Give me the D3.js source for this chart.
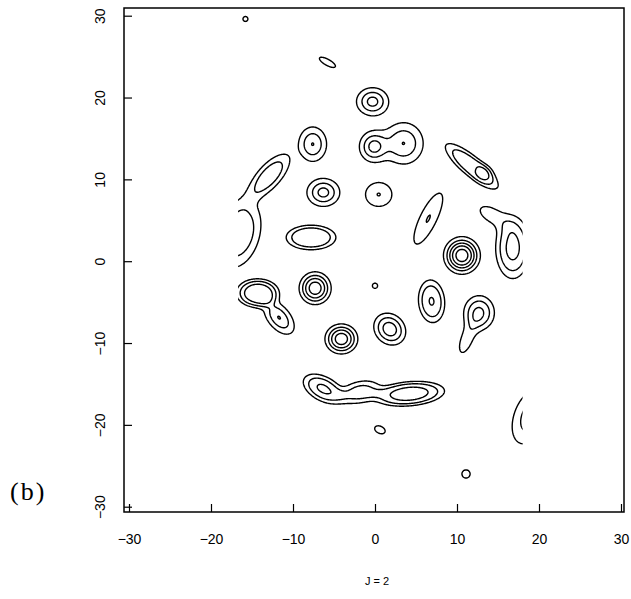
<!DOCTYPE html>
<html>
<head>
<meta charset="utf-8">
<script src="https://cdn.jsdelivr.net/npm/d3@7"></script>
<style>
  body { margin: 0; background: #fff; }
  svg text { font-family: "Liberation Sans", Arial, sans-serif; fill: #000; }
</style>
</head>
<body>
<svg id="chart" width="631" height="599"></svg>
<script>
// Axis ticks and contour levels
const xTicks = [-30, -20, -10, 0, 10, 20, 30];
const yTicks = [-30, -20, -10, 0, 10, 20, 30];
const levels = [1, 2, 3, 4, 5];

// Surface peaks: centre, height, spread along / across the axis, axis angle (deg), profile exponent
const peakX      = [-15.8, -5.8, -0.3, -7.6, -0.2, 3.5, -6.3, 0.45, -12.9, -16.6, -7.8, -14.3, -11.7, -7.3, -4.1, 0.0, 1.8, 6.9, 12.7, 11.2, 10.6, 6.5, 16.8, 14.3, 11.8, 13.4, -6.3, -1.8, 4.2, 0.6, 11.1, 18.9];
const peakY      = [29.6, 24.3, 19.5, 14.3, 14.0, 14.4, 8.4, 8.15, 10.4, 3.4, 2.9, -3.9, -6.9, -3.3, -9.5, -3.0, -8.3, -4.9, -6.3, -9.5, 0.7, 5.2, 1.6, 5.6, 11.6, 10.8, -15.6, -16.0, -16.2, -20.6, -26.0, -19.0];
const peakHeight = [1.2, 1.3, 3.4, 3.02, 3.3, 3.0, 3.4, 2.02, 2.6, 2.7, 2.95, 3.6, 3.03, 4.6, 4.6, 1.15, 3.5, 3.02, 3.08, 1.6, 5.6, 2.03, 3.2, 1.5, 2.6, 1.2, 3.1, 2.4, 3.3, 1.3, 1.3, 2.6];
const spreadA    = [0.5, 1.52, 1.25, 1.14, 1.1, 1.6, 1.28, 1.35, 2.4, 3.0, 2.1, 1.73, 1.6, 1.16, 1.19, 0.6, 1.35, 1.78, 1.25, 1.8, 1.27, 2.87, 1.4, 1.8, 2.9, 0.8, 1.8, 1.8, 2.9, 0.93, 0.69, 2.5];
const spreadB    = [0.5, 0.51, 1.09, 1.41, 1.2, 1.7, 1.09, 1.22, 1.0, 1.8, 1.04, 1.16, 0.9, 1.19, 1.09, 0.6, 1.15, 1.09, 1.4, 0.7, 1.3, 0.85, 2.5, 0.9, 0.85, 0.8, 1.0, 0.95, 1.0, 0.6, 0.69, 1.4];
const peakAngle  = [0, -29, 0, 0, 0, 0, 0, 0, 48, 75, 0, 0, -50, 0, 0, 0, -45, 95, 0, 69, 0, 64, 0, -30, -40, 0, -28, 12, 5, -25, 0, 70];
const peakShape  = [1, 1, 1, 1, 1, 1, 1, 1, 1.5, 1.5, 2, 2, 1, 1.2, 1.2, 1, 1.2, 1.5, 1.2, 1, 1.2, 1, 1.5, 1, 2, 1, 1.5, 1.5, 2, 1, 1, 1];

// Region of the plane that was mapped
const mapX = [-16.7, 18.0];
const mapY = [-30.5, 30.5];

const svg = d3.select("#chart");
const frame = { left: 124, right: 624, top: 8, bottom: 512 };

const x = d3.scaleLinear().domain([-30, 30]).range([129, 621]);
const y = d3.scaleLinear().domain([-30, 30]).range([506.7, 15.7]);

// Sample the surface on a grid slightly wider than the mapped region
const step = 0.1;
const gx0 = mapX[0] - 1, gx1 = mapX[1] + 1;
const gy0 = mapY[0] - 1, gy1 = mapY[1] + 1;
const nx = Math.round((gx1 - gx0) / step) + 1;
const ny = Math.round((gy1 - gy0) / step) + 1;
const values = new Float64Array(nx * ny);
const peaks = d3.range(peakX.length).map(i => {
  const a = peakAngle[i] * Math.PI / 180;
  return { cx: peakX[i], cy: peakY[i], h: peakHeight[i], sa: spreadA[i], sb: spreadB[i],
           c: Math.cos(a), s: Math.sin(a), p: peakShape[i] };
});
for (let j = 0; j < ny; j++) {
  const py = gy0 + j * step;
  for (let i = 0; i < nx; i++) {
    const px = gx0 + i * step;
    let f = 0;
    for (const k of peaks) {
      const dx = px - k.cx, dy = py - k.cy;
      const u = (dx * k.c + dy * k.s) / k.sa;
      const v = (-dx * k.s + dy * k.c) / k.sb;
      const d2 = (u * u + v * v) / 2;
      if (d2 < 40) f += k.h * Math.exp(-Math.pow(d2, k.p));
    }
    values[j * nx + i] = f;
  }
}

const contours = d3.contours().size([nx, ny]).thresholds(levels)(values);

const toScreen = d3.geoTransform({
  point(cx, cy) {
    this.stream.point(x(gx0 + (cx - 0.5) * step), y(gy0 + (cy - 0.5) * step));
  }
});
const path = d3.geoPath(toScreen);

svg.append("clipPath").attr("id", "mapClip")
  .append("rect")
  .attr("x", x(mapX[0])).attr("y", y(mapY[1]))
  .attr("width", x(mapX[1]) - x(mapX[0]))
  .attr("height", y(mapY[0]) - y(mapY[1]));

svg.append("g").attr("clip-path", "url(#mapClip)")
  .selectAll("path")
  .data(contours)
  .join("path")
  .attr("d", path)
  .attr("fill", "none")
  .attr("stroke", "#000")
  .attr("stroke-width", 1.4)
  .attr("stroke-linejoin", "round");

// Frame
svg.append("rect")
  .attr("x", frame.left).attr("y", frame.top)
  .attr("width", frame.right - frame.left)
  .attr("height", frame.bottom - frame.top)
  .attr("fill", "none").attr("stroke", "#000").attr("stroke-width", 1.5);

// Bottom axis, ticks pointing inward
const xAxis = svg.append("g")
  .attr("transform", `translate(0,${frame.bottom})`)
  .call(d3.axisBottom(x).tickValues(xTicks).tickSize(-8).tickPadding(22).tickFormat(d3.format("d")));
xAxis.select(".domain").remove();
xAxis.selectAll("line").attr("stroke", "#000").attr("stroke-width", 1.2);
xAxis.selectAll("text").attr("font-size", 14).style("font-family", "'Liberation Sans', Arial, sans-serif");

// Left axis, labels turned upright along the axis
const yAxis = svg.append("g")
  .attr("transform", `translate(${frame.left},0)`)
  .call(d3.axisLeft(y).tickValues(yTicks).tickSize(-8).tickFormat(d3.format("d")));
yAxis.select(".domain").remove();
yAxis.selectAll("line").attr("stroke", "#000").attr("stroke-width", 1.2);
yAxis.selectAll("text")
  .attr("x", 0).attr("dy", null)
  .attr("text-anchor", "middle")
  .attr("transform", "translate(-19,0) rotate(-90)")
  .attr("font-size", 14)
  .style("font-family", "'Liberation Sans', Arial, sans-serif");

svg.append("text")
  .attr("x", 377).attr("y", 585)
  .attr("text-anchor", "middle")
  .attr("font-size", 11)
  .text("J = 2");

svg.append("text")
  .attr("x", 10).attr("y", 500)
  .attr("font-size", 26)
  .attr("letter-spacing", 2)
  .style("font-family", "'Liberation Serif', 'Times New Roman', serif")
  .text("(b)");
</script>
</body>
</html>
